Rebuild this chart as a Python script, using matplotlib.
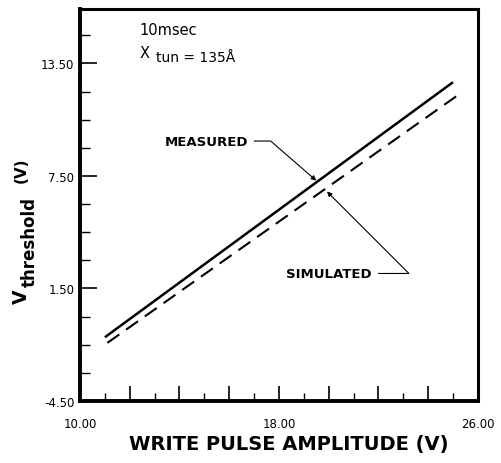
import matplotlib
matplotlib.use("Agg")
import matplotlib.pyplot as plt
from matplotlib.ticker import MultipleLocator, FixedLocator

plt.rcParams['font.family'] = ['DejaVu Sans']

# Data
measured_x = [11.0, 25.0]
measured_y = [-1.1, 12.5]
simulated_x = [11.1, 25.4]
simulated_y = [-1.4, 12.0]

xticks = [10.0, 18.0, 26.0]
yticks = [-4.5, 1.5, 7.5, 13.5]
ytick_labels = ['-4.50', '1.50', '7.50', '13.50']

fig = plt.figure(figsize=(5.02, 4.64), dpi=100)
ax = fig.add_axes([0.1594, 0.1336, 0.7926, 0.8448])

ax.plot(measured_x, measured_y, color='black', lw=1.8, solid_capstyle='butt')
ax.plot(simulated_x, simulated_y, color='black', lw=1.5, dashes=(7, 4))

ax.set_xlim(10, 26)
ax.set_ylim(-4.5, 16.4)

ax.xaxis.set_major_locator(FixedLocator([12, 14, 16, 18, 20, 22, 24]))
ax.xaxis.set_minor_locator(FixedLocator([11, 13, 15, 17, 19, 21, 23, 25]))
ax.yaxis.set_major_locator(FixedLocator(yticks))
ax.yaxis.set_minor_locator(MultipleLocator(1.5))
ax.set_xticklabels([])
ax.set_yticklabels(ytick_labels)

ax.tick_params(axis='y', which='major', direction='in', length=12, width=1.2, labelsize=8.5, pad=4)
ax.tick_params(axis='y', which='minor', direction='in', length=7, width=1.0)
ax.tick_params(axis='x', which='major', direction='in', length=11, width=1.2)
ax.tick_params(axis='x', which='minor', direction='in', length=6, width=1.0)

for xv in xticks:
    ax.text(xv, -5.35, f"{xv:.2f}", ha='center', va='top', fontsize=8.5)

for side in ['left', 'bottom']:
    ax.spines[side].set_linewidth(2.8)
for side in ['right', 'top']:
    ax.spines[side].set_linewidth(2.2)

ax.set_xlabel('WRITE PULSE AMPLITUDE (V)', fontsize=14, fontweight='bold')
ax.xaxis.set_label_coords(0.525, -0.085)

# y label built from pieces: large subscript as in the reference
fig.text(0.0418, 0.360, 'V', rotation=90, ha='center', va='center',
         fontsize=13.5, fontweight='bold')
fig.text(0.0590, 0.4784, 'threshold', rotation=90, ha='center', va='center',
         fontsize=12, fontweight='bold')
fig.text(0.0418, 0.6336, '(V)', rotation=90, ha='center', va='center',
         fontsize=11, fontweight='bold')

ax.text(12.4, 15.3, '10msec', fontsize=10.5, ha='left', va='center')
ax.text(12.4, 14.1, 'X', fontsize=10.5, ha='left', va='center')
ax.text(13.05, 13.85, 'tun = 135Å', fontsize=10, ha='left', va='center')

ax.annotate('MEASURED', xy=(19.5, 7.25), xytext=(15.1, 9.36),
            fontsize=9.5, fontweight='bold', ha='center', va='center',
            arrowprops=dict(arrowstyle='-|>', color='black', lw=0.8, mutation_scale=7,
                            connectionstyle='angle,angleA=0,angleB=139,rad=0',
                            shrinkA=2, shrinkB=0))
ax.annotate('SIMULATED', xy=(19.93, 6.67), xytext=(20.0, 2.3),
            fontsize=9.5, fontweight='bold', ha='center', va='center',
            arrowprops=dict(arrowstyle='-|>', color='black', lw=0.8, mutation_scale=7,
                            connectionstyle='angle,angleA=0,angleB=-45,rad=0',
                            shrinkA=3, shrinkB=0))

fig.savefig('out.png', dpi=100)
